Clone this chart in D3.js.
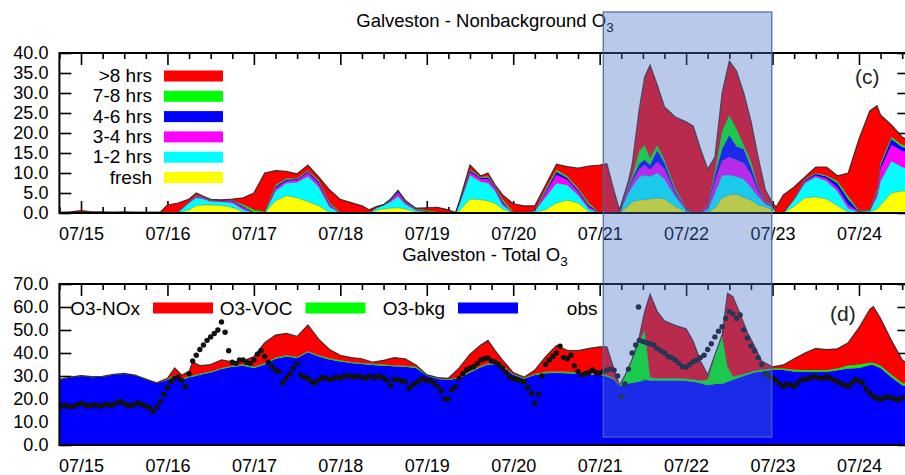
<!DOCTYPE html>
<html>
<head>
<meta charset="utf-8">
<script src="https://cdn.jsdelivr.net/npm/d3@7"></script>
<style>
  body { margin: 0; background: #fff; }
  svg { display: block; }
  text { font-family: "Liberation Sans", Arial, sans-serif; }
</style>
</head>
<body>
<svg id="chart" width="905" height="475"></svg>
<script>
// hours since 07/15 00:00 (CST)
const dayLabels = ['07/15','07/16','07/17','07/18','07/19','07/20','07/21','07/22','07/23','07/24']
const dayHours  = [0, 24, 48, 72, 96, 120, 144, 168, 192, 216]

// ---- panel (c): nonbackground O3 by age (ppb)
const topHours = [-6,-3,0,3,6,9,12,15,18,22,24,27,30,32,34,36,39,42,45,48,51,54,57,60,63,66,69,72,75,78,80,82,84,86,88,90,93,96,99,102,104,105,108,111,113,115,117,120,123,126,129,132,135,138,141,144,146,148,149.5,152,153,155,156.5,158,160,162,165,168,170,172,174,176,178,180,182,184,186,188,190,192,193,195,198,201,204,207,210,213,216,219,221,222,225,228,230]
const fresh  = [0,0,0,0,0,0,0,0,0,0,0,0,0.8,1.8,2.0,2.0,1.9,1.4,0.3,0,0,3.0,4.3,3.8,2.8,1.8,0.2,0,0,0,0,0.6,1.0,1.2,1.3,1.0,0.3,0,0,0,0,0.5,3.5,3.3,3.0,2.4,1.0,0,0,0.2,0.8,2.5,3.2,2.5,0.3,0,0,0,0,1.8,2.8,3.2,3.3,3.5,3.7,3.5,1.6,0.3,0,0,0.2,1.2,3.8,4.5,4.7,3.9,3.2,2.0,1.5,0.8,0,0,1.6,3.8,4.0,3.5,1.8,0.2,0,0.2,1.0,2.0,5.0,5.5,5.5]
const hrs12  = [0,0,0,0,0,0,0,0,0,0,0,0.2,1.7,2.0,1.5,0.9,0.9,1.1,0.6,0,0,2.5,3.2,3.9,6.4,4.7,1.3,0,0,0,0,0.6,1.0,1.6,2.9,1.2,0.4,0.2,0,0,0,1.5,6.0,4.5,4.5,3.1,1.0,0,0,0.3,3.2,5.0,3.8,2.0,0.7,0,0,0,0,3.2,3.8,5.8,6.2,5.6,6.3,5.0,2.5,0.4,0,0,0.6,3.8,5.7,5.0,4.4,4.6,3.3,2.1,0.7,0.7,0,0,1.7,3.7,5.0,4.5,3.7,1.0,0.2,0.3,3.0,6.0,8.0,6.0,5.5]
const hrs34  = [0,0,0,0,0,0,0,0,0,0,0,0,0.2,0.4,0.3,0.2,0.2,0.4,0.5,0,0,0.7,0.5,0.5,0.8,0.8,0.5,0,0,0,0,0.1,0,0.4,0.9,0.4,0.1,0.1,0,0,0,0.3,0.7,0.7,0.9,0.7,0.5,0,0,0.1,1.0,2.0,1.3,0.8,0.5,0,0,0,0,1.0,1.2,2.0,2.5,1.7,2.8,2.5,0.8,0.2,0,0,0.7,3.0,3.5,4.5,4.1,4.0,3.2,1.4,0.3,0.3,0,0,0.2,0.5,0.4,0.6,0.8,0.8,0.1,0.1,1.0,3.0,4.0,4.0,4.0]
const hrs46  = [0,0,0,0,0,0,0,0,0,0,0,0,0.1,0.2,0.1,0.1,0.1,0.2,0.3,0.2,0,0.4,0.4,0.3,0.4,0.5,0.3,0,0,0,0,0,0,0.2,0.4,0.3,0.1,0.1,0,0,0,0.2,0.4,0.3,0.5,0.3,0.5,0,0,0,0.5,0.8,0.5,0.5,0.5,0,0,0,0,0.5,0.7,1.3,1.3,1.2,2.9,1.5,0.6,0.1,0,0,0.3,1.5,3.0,5.5,3.4,3.5,1.8,0.8,0.2,0.2,0,0,0.1,0.3,0.4,0.5,1.2,1.5,0.1,0.1,0.5,1.0,1.5,1.0,1.0]
const hrs78  = [0,0,0,0,0,0,0,0,0,0,0,0.1,0.1,0.1,0.1,0.1,0.05,0.1,0.4,0.6,0.3,0.4,0.2,0.2,0.2,0.3,0.3,0.2,0,0,0,0.1,0.1,0.1,0.1,0.2,0.1,0.3,0.2,0,0,0.1,0.3,0.2,0.3,0.2,0.5,0.3,0,0.1,0.5,0.5,0.4,0.4,0.5,0,0,0,0,0.5,0.6,3.2,3.7,1.7,1.3,0.8,0.7,0.2,0,0,0.2,1.0,4.5,5.0,4.4,1.0,1.5,0.3,0.1,0.2,0,0,0.1,0.2,0.2,0.3,0.5,0.7,0.2,0.1,0.5,0.5,0.5,0.5,0.5]
const hrs8up = [0.2,0.3,0.6,0.3,0.3,0.2,0.3,0.2,0.2,0.2,2.0,2.2,0.6,0.5,0.2,0.1,0.15,0.3,1.7,4.2,9.7,3.6,1.8,1.1,1.4,0.9,3.2,3.2,2.6,1.8,0.8,0.2,0,0,0.1,0.1,0.2,0.6,1.2,0.8,0.1,0.2,1.1,0.3,0.8,0.3,1.1,2.0,1.8,1.1,1.0,1.4,2.4,5.0,9.2,12.0,12.3,5.5,0.8,1.0,2.9,10.5,17.0,23.3,15.0,13.2,17.8,21.6,21.7,16.0,9.0,3.5,9.5,13.5,14.5,13.0,10.0,7.4,3.0,0.3,1.5,4.5,2.8,0.5,1.5,2.1,1.3,5.8,17.9,24.7,20.8,12.0,3.0,2.0,1.5]
const ageKeys   = ['fresh','hrs12','hrs34','hrs46','hrs78','hrs8up']
const ageNames  = ['fresh','1-2 hrs','3-4 hrs','4-6 hrs','7-8 hrs','>8 hrs']
const ageColors = ['#ffff00','#00ffff','#ff00ff','#0000ff','#00ff00','#ff0000']

// ---- panel (d): total O3 by source (ppb)
const botHours = [-6,-3,0,3,6,9,12,15,18,21,24,26,28,30,31,33,36,39,42,45,48,51,54,57,60,63,66,69,72,75,78,81,84,87,90,93,96,99,102,105,108,111,113,115,117,120,123,126,129,132,135,138,141,144,146,148,149.5,151,153,155,156.5,158,160,162,165,168,170,172,174,176,178,179.5,181,183,185,187,189,192,195,198,201,204,207,210,213,216,219,220,222,225,228,230]
const o3bkg = [28.3,29.3,30.0,29.5,29.7,30.5,30.9,30.2,28.5,26.8,28.3,30.0,28.3,29.5,29.7,30.5,31.5,33.0,34.0,34.5,33.5,35.0,37.5,38.5,37.8,40.3,38.5,37.2,36.3,35.6,35.2,34.8,34.5,34.2,34.0,33.5,30.2,28.7,28.3,29.0,31.5,33.8,35.0,35.0,34.0,30.5,28.8,30.4,31.2,31.4,31.2,31.0,30.6,30.4,29.8,28.5,25.5,26.5,27.0,27.5,28.3,28.0,28.0,28.0,28.0,27.8,27.5,26.8,26.0,26.5,26.5,27.5,28.3,29.5,30.5,31.5,32.0,32.6,32.6,32.0,31.9,31.9,31.9,32.5,33.3,33.5,34.8,34.8,33.5,29.5,26.0,25.5]
const o3voc = [0.1,0.1,0.1,0.1,0.1,0.1,0.1,0.1,0.1,0.1,0.3,0.5,0.5,0.5,0.5,0.5,0.5,0.5,0.5,0.5,0.5,0.5,0.5,0.5,0.5,0.5,0.5,0.5,0.5,0.5,0.5,0.5,0.5,0.5,0.5,0.5,0.3,0.3,0.3,0.5,0.5,0.5,0.5,0.5,0.5,0.4,0.3,0.5,0.6,0.6,0.6,0.6,0.6,0.6,0.6,0.5,0.3,3.5,10.0,17.5,21.7,1.5,1.0,1.0,1.0,1.0,1.0,1.2,2.5,12.5,21.0,6.5,1.5,1.0,0.8,0.8,0.8,0.7,0.7,0.7,0.7,0.7,0.7,0.8,1.3,1.5,1.0,1.0,1.0,1.0,1.0,1.0]
const o3nox = [0.1,0.1,0.1,0.1,0.1,0.1,0.1,0.1,0.1,0.1,0.4,3.0,1.6,2.0,6.0,3.5,3.0,3.5,1.7,1.5,4.5,9.0,9.8,9.5,8.9,11.4,7.0,3.8,2.2,1.9,1.8,0.7,1.8,3.3,3.0,0.8,0.1,0.3,0.4,4.0,7.5,9.2,10.0,5.5,2.5,0.6,0.4,1.7,6.6,11.3,9.4,9.4,10.8,11.7,12.3,4.0,0.2,0.2,0.3,2.0,8.0,36.0,29.0,25.0,23.0,21.7,16.5,8.5,2.0,0.3,0.5,32.0,34.7,26.5,17.7,10.7,3.7,0.7,1.5,4.8,7.4,9.4,8.9,8.5,9.9,16.0,23.2,24.4,20.5,15.0,10.0,8.5]
const srcKeys   = ['o3bkg','o3voc','o3nox']
const srcNames  = ['O3-NOx','O3-VOC','O3-bkg','obs']
const srcColors = ['#0000ff','#00ff00','#ff0000']

// hourly observations from 07/14 18:00
const obsStart = -6
const obs = [
  16.4,17.0,17.3,16.5,16.8,17.5,18.2,17.5,16.8,17.2,17.5,16.8,
  17.3,17.8,17.2,17.6,18.3,19.0,18.0,17.3,17.0,17.8,18.4,17.5,
  16.8,16.2,14.5,16.5,19.0,22.0,25.0,27.5,29.0,29.5,28.0,25.4,
  31.0,36.5,39.0,41.5,43.5,45.5,47.0,48.5,50.0,53.5,49.0,41.0,
  36.0,35.5,37.0,37.0,36.0,35.5,37.0,39.5,41.0,38.5,36.0,34.0,
  32.5,32.0,27.0,29.0,31.0,33.5,35.5,30.5,29.5,29.0,27.5,27.0,
  28.2,29.5,29.0,28.5,29.0,29.5,29.0,30.0,30.0,30.0,29.5,30.0,
  29.5,29.0,30.0,29.5,29.5,30.0,29.0,28.0,25.8,28.5,28.5,28.0,
  27.5,24.6,26.0,27.0,28.0,28.8,28.0,28.0,27.0,25.5,23.5,20.0,
  20.0,24.0,25.4,29.0,31.0,32.6,33.5,34.0,35.5,37.0,37.5,37.8,
  36.5,36.0,35.0,33.5,31.5,29.5,28.8,28.5,28.0,27.5,25.0,22.5,
  18.2,22.0,30.0,35.0,37.0,38.5,40.0,43.0,38.0,37.5,39.0,34.5,
  32.0,30.5,31.0,31.5,32.6,31.5,31.2,32.0,32.6,33.0,32.5,30.0,
  21.0,26.5,33.0,40.0,43.5,45.5,45.0,44.5,44.0,43.5,42.0,41.0,
  40.0,38.5,38.0,37.0,35.5,34.0,33.8,35.0,36.2,37.0,38.0,39.0,
  41.5,44.0,47.0,49.5,51.4,55.0,58.0,57.0,55.0,56.5,50.0,46.5,
  43.0,41.0,38.0,35.0,31.0,30.0,29.0,28.0,26.5,25.4,26.5,26.0,
  25.5,27.0,28.3,28.5,28.8,29.5,29.7,29.0,29.0,29.7,29.0,28.3,
  27.5,26.8,26.0,25.4,27.0,28.3,27.8,27.0,24.5,22.5,21.0,20.3,
  19.8,20.5,21.0,20.5,20.0,19.6,20.5
]

// highlighted period (hours)
const highlight = [145, 191.8]

const svg = d3.select('#chart')
const font = '"Liberation Sans", Arial, sans-serif'

const x = d3.scaleLinear().domain([-6, 230]).range([59.4, 909.4])
const minorHours = d3.range(-6, 231, 6).filter(h => h % 24 !== 0)

function panel(cfg) {
  const g = svg.append('g')
  const y = cfg.y
  const [x0, x1] = x.range()
  const yb = y.range()[0], yt = y.range()[1]

  // ticks first, so the areas hide them as in the original
  const tick = sel => {
    sel.select('.domain').remove()
    sel.selectAll('line').attr('stroke', '#000').attr('stroke-width', 1.6)
    sel.selectAll('text').attr('font-size', 18).attr('font-family', font).attr('fill', '#000')
  }
  g.append('g').attr('transform', `translate(${x0},0)`)
    .call(d3.axisLeft(y).tickValues(cfg.yTicks).tickSize(-12).tickPadding(11).tickFormat(d3.format('.1f')))
    .call(tick)
  g.append('g').attr('transform', `translate(${x1},0)`)
    .call(d3.axisRight(y).tickValues(cfg.yTicks).tickSize(-12).tickFormat(''))
    .call(tick)
  g.append('g').attr('transform', `translate(0,${yt})`)
    .call(d3.axisTop(x).tickValues(dayHours).tickSize(-12).tickFormat(''))
    .call(tick)
  g.append('g').attr('transform', `translate(0,${yt})`)
    .call(d3.axisTop(x).tickValues(minorHours).tickSize(-6).tickFormat(''))
    .call(tick)
  g.append('g').attr('transform', `translate(0,${yb})`)
    .call(d3.axisBottom(x).tickValues(dayHours).tickSize(-12).tickPadding(14).tickFormat((d, i) => dayLabels[i]))
    .call(tick)
  g.append('g').attr('transform', `translate(0,${yb})`)
    .call(d3.axisBottom(x).tickValues(minorHours).tickSize(-6).tickFormat(''))
    .call(tick)

  // stacked areas
  const clipId = 'clip' + cfg.id
  svg.append('clipPath').attr('id', clipId)
    .append('rect').attr('x', x0).attr('y', yt).attr('width', x1 - x0).attr('height', yb - yt)
  const rows = cfg.hours.map((h, i) => {
    const r = { h }
    cfg.keys.forEach((k, j) => r[k] = cfg.values[j][i])
    return r
  })
  const series = d3.stack().keys(cfg.keys)(rows)
  const area = d3.area().x(d => x(d.data.h)).y0(d => y(d[0])).y1(d => y(d[1]))
  const line = d3.line().x(d => x(d.data.h)).y(d => y(d[1]))
  const plot = g.append('g').attr('clip-path', `url(#${clipId})`)
  plot.selectAll('path.area').data(series).join('path')
    .attr('class', 'area')
    .attr('d', area)
    .attr('fill', (d, i) => cfg.colors[i])
  plot.selectAll('path.edge').data(series).join('path')
    .attr('class', 'edge')
    .attr('d', line)
    .attr('fill', 'none')
    .attr('stroke', '#222')
    .attr('stroke-opacity', (d, i) => i === series.length - 1 ? 0.85 : 0.35)
    .attr('stroke-width', (d, i) => i === series.length - 1 ? 1.2 : 0.7)

  if (cfg.obs) {
    plot.selectAll('circle').data(cfg.obs).join('circle')
      .attr('cx', (d, i) => x(obsStart + i))
      .attr('cy', d => y(d))
      .attr('r', 2.7)
      .attr('fill', '#111')
  }

  // frame
  g.append('rect')
    .attr('x', x0).attr('y', yt).attr('width', x1 - x0).attr('height', yb - yt)
    .attr('fill', 'none').attr('stroke', '#000').attr('stroke-width', 2)

  return g
}

// ---------- panel (c)
const yTop = d3.scaleLinear().domain([0, 40]).range([213, 53])
const gTop = panel({
  id: 'c', y: yTop, yTicks: d3.range(0, 41, 5),
  hours: topHours, keys: ageKeys,
  values: [fresh, hrs12, hrs34, hrs46, hrs78, hrs8up],
  colors: ageColors
})

// legend (c), listed oldest first
const legTop = gTop.append('g')
ageNames.slice().reverse().forEach((name, i) => {
  const yy = 70.5 + 20.3 * i
  legTop.append('text')
    .attr('x', 152).attr('y', yy + 11.5)
    .attr('text-anchor', 'end')
    .attr('font-size', 19).attr('fill', '#000')
    .text(name)
  legTop.append('rect')
    .attr('x', 164).attr('y', yy).attr('width', 59).attr('height', 11)
    .attr('fill', ageColors[ageColors.length - 1 - i])
})
gTop.append('text').attr('x', 855).attr('y', 84)
  .attr('font-size', 21).attr('fill', '#222').text('(c)')

// ---------- panel (d)
const yBot = d3.scaleLinear().domain([0, 70]).range([445, 284])
const gBot = panel({
  id: 'd', y: yBot, yTicks: d3.range(0, 71, 10),
  hours: botHours, keys: srcKeys,
  values: [o3bkg, o3voc, o3nox],
  colors: srcColors, obs: obs
})

// legend (d): one row, text right-aligned before each sample
const legBot = gBot.append('g')
const legColors = ['#ff0000', '#00ff00', '#0000ff']
srcNames.forEach((name, i) => {
  const tx = 140 + 152.5 * i
  legBot.append('text')
    .attr('x', tx).attr('y', 315)
    .attr('text-anchor', 'end')
    .attr('font-size', 19).attr('fill', '#000')
    .text(name)
  if (i < 3) {
    legBot.append('rect')
      .attr('x', tx + 13).attr('y', 302.5).attr('width', 60).attr('height', 11)
      .attr('fill', legColors[i])
  } else {
    legBot.append('circle').attr('cx', tx + 41).attr('cy', 307).attr('r', 2.8).attr('fill', '#111')
  }
})
gBot.append('text').attr('x', 830).attr('y', 321)
  .attr('font-size', 21).attr('fill', '#222').text('(d)')

// ---------- titles
function title(yy, main) {
  const t = svg.append('text')
    .attr('x', 485).attr('y', yy)
    .attr('text-anchor', 'middle')
    .attr('font-size', 18.5).attr('fill', '#000')
  t.append('tspan').text(main + ' O')
  t.append('tspan').attr('font-size', 13.5).attr('dy', 5).text('3')
}
title(27, 'Galveston - Nonbackground')
title(261, 'Galveston - Total')

// ---------- highlighted period overlay
svg.append('rect')
  .attr('x', x(highlight[0])).attr('y', 12)
  .attr('width', x(highlight[1]) - x(highlight[0])).attr('height', 425)
  .attr('fill', 'rgb(72,112,200)').attr('fill-opacity', 0.38)
  .attr('stroke', '#4a66a0').attr('stroke-width', 1.2)
</script>
</body>
</html>
